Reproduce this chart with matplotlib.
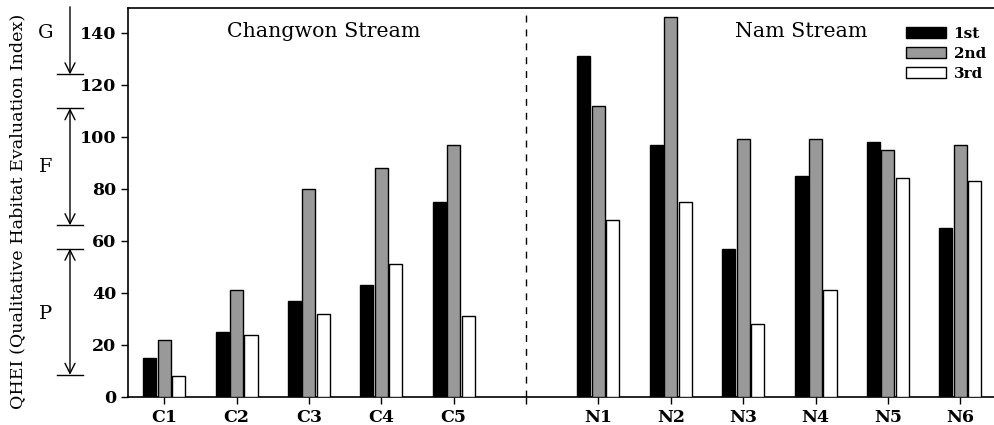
import matplotlib
matplotlib.use("Agg")
import matplotlib.pyplot as plt
import numpy as np

categories = ["C1", "C2", "C3", "C4", "C5", "N1", "N2", "N3", "N4", "N5", "N6"]
first = [15, 25, 37, 43, 75, 131, 97, 57, 85, 98, 65]
second = [22, 41, 80, 88, 97, 112, 146, 99, 99, 95, 97]
third = [8, 24, 32, 51, 31, 68, 75, 28, 41, 84, 83]
series_names = ["1st", "2nd", "3rd"]
yticks = [0, 20, 40, 60, 80, 100, 120, 140]
# grade bands (label, top, bottom)
grades = [("G", 150, 124), ("F", 111, 66), ("P", 57, 8.5)]

plt.rcParams["font.family"] = ["DejaVu Serif"]

fig = plt.figure(figsize=(9.95, 4.25), dpi=100)
ax = fig.add_axes([0.1286, 0.066, 0.8714, 0.915])

pos = np.array([0, 1, 2, 3, 4, 6, 7, 8, 9, 10, 11], dtype=float)
w = 0.18
off = 0.2
colors = ["black", "#999999", "white"]
for i, (vals, c, name) in enumerate(zip([first, second, third], colors, series_names)):
    ax.bar(pos + (i - 1) * off, vals, width=w, color=c, edgecolor="black",
           linewidth=1.0, label=name, zorder=3)

ax.set_xlim(-0.5, 11.48)
ax.set_ylim(0, 149.5)
ax.set_xticks(list(pos) + [5])
ax.set_xticklabels(categories + [""])
ax.set_yticks(yticks)
ax.tick_params(axis="both", direction="out", length=5, width=1,
               labelsize=12.5)
for lab in ax.get_xticklabels() + ax.get_yticklabels():
    lab.set_fontweight("bold")
ax.spines["right"].set_visible(False)
for s in ["top", "left", "bottom"]:
    ax.spines[s].set_linewidth(1.2)

ax.axvline(5, color="black", linestyle=(0, (5, 5)), linewidth=1.0)

ax.text(2.2, 140.5, "Changwon Stream", ha="center", va="center", fontsize=14.8)
ax.text(8.8, 140.5, "Nam Stream", ha="center", va="center", fontsize=14.8)

leg = ax.legend(loc="upper right", bbox_to_anchor=(1.0, 0.975), frameon=False,
                handlelength=2.6, handleheight=0.75, handletextpad=0.5,
                labelspacing=0.4, borderaxespad=0.2,
                prop={"size": 11, "weight": "bold"})

ax.set_ylabel("QHEI (Qualitative Habitat Evaluation Index)", fontsize=12.6)
ax.yaxis.set_label_coords(-0.117, 0.478)

# grade band annotations on the left (in data y, figure-relative x)
trans = matplotlib.transforms.blended_transform_factory(fig.transFigure, ax.transData)
xa = 70 / 995
xl, xr = 57 / 995, 83 / 995
for g, top, bot in grades:
    ax.annotate("", xy=(xa, bot), xytext=(xa, top), xycoords=trans, textcoords=trans,
                arrowprops=dict(arrowstyle="<->" if g != "G" else "->",
                                color="black", lw=1.0, mutation_scale=18,
                                shrinkA=0, shrinkB=0),
                annotation_clip=False)
    ax.plot([xl, xr], [bot, bot], transform=trans, color="black", lw=1.0, clip_on=False)
    if g != "G":
        ax.plot([xl, xr], [top, top], transform=trans, color="black", lw=1.0, clip_on=False)

label_y = {"G": 140, "F": 88.5, "P": 32}
for g, _, _ in grades:
    ax.text(46 / 995, label_y[g], g, transform=trans, ha="center", va="center", fontsize=14)

fig.savefig("out.png", dpi=100)
